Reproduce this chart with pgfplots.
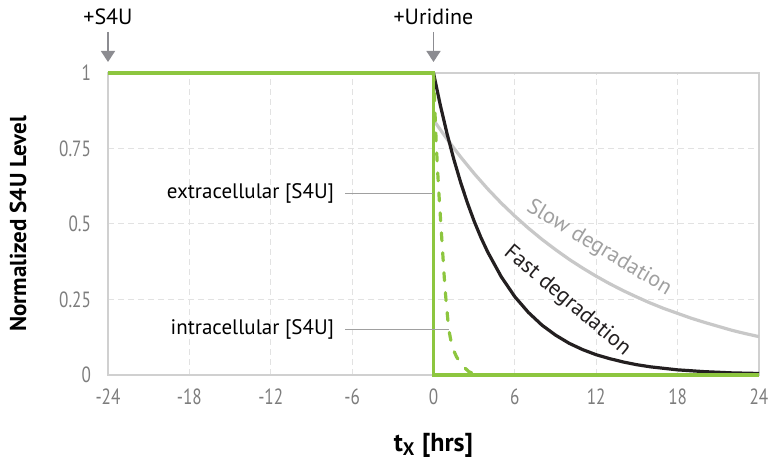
\documentclass[border=0pt]{standalone}
\usepackage{fontspec}
\setmainfont{PT Sans}
\newfontfamily\condfont{PT Sans}[FakeStretch=0.78]
\usepackage{pgfplots}
\pgfplotsset{compat=1.18}
\usetikzlibrary{arrows.meta}

\definecolor{sgreen}{RGB}{141,198,63}
\definecolor{sblack}{RGB}{35,31,32}
\definecolor{sgray}{RGB}{200,200,200}
\definecolor{gridc}{RGB}{226,226,226}
\definecolor{axc}{RGB}{208,208,208}
\definecolor{tickc}{RGB}{125,125,125}
\definecolor{annc}{RGB}{160,160,160}
\definecolor{arrc}{RGB}{140,140,145}

\begin{document}
\begin{tikzpicture}
\begin{axis}[
    at={(0,0)}, anchor=south west,
    scale only axis, width=325.5pt, height=151pt,
    xmin=-24, xmax=24, ymin=0, ymax=1,
    xtick={-24,-18,-12,-6,0,6,12,18,24},
    xticklabels={-24,-18,-12,-6,0,6,12,18,24},
    ytick={0,0.25,0.5,0.75,1},
    yticklabels={0,0.25,0.5,0.75,1},
    grid=major,
    major grid style={gridc, dash pattern=on 3pt off 2pt, line width=0.5pt},
    axis line style={axc, line width=0.8pt},
    tick style={draw=none},
    ticklabel style={font=\condfont\fontsize{11}{13}\selectfont, text=tickc},
    xticklabel style={anchor=north, yshift=-3.5pt},
    yticklabel style={anchor=east, xshift=-5pt},
    xlabel={t\textsubscript{X} [hrs]},
    xlabel style={at={(axis description cs:0.5,-0.232)}, anchor=center,
        font=\bfseries\fontsize{13}{15}\selectfont},
    ylabel={Normalized S4U Level},
    ylabel style={at={(axis description cs:-0.1382,0.5)}, anchor=center,
        font=\bfseries\fontsize{11.5}{13}\selectfont},
    clip=false,
]
% slow degradation
\addplot[sgray, line width=1.6pt] coordinates {
(0.1,0.838) (1,0.781) (2,0.722) (3,0.667) (4,0.616) (5,0.569) (6,0.526)
(7,0.486) (8,0.449) (9,0.415) (10,0.383) (11,0.354) (12,0.327) (13,0.302)
(14,0.279) (15,0.258) (16,0.238) (17,0.220) (18,0.204) (19,0.188) (20,0.174)
(21,0.161) (22,0.148) (23,0.137) (24,0.127)
};
% fast degradation
\addplot[sblack, line width=1.6pt] coordinates {
(0,1) (0.5,0.894) (1,0.799) (1.5,0.714) (2,0.638) (2.5,0.570) (3,0.509)
(3.5,0.455) (4,0.407) (5,0.325) (6,0.259) (7,0.207) (8,0.165) (9,0.132)
(10,0.105) (11,0.084) (12,0.067) (13,0.054) (14,0.043) (15,0.034) (16,0.027)
(17,0.022) (18,0.017) (19,0.014) (20,0.011) (21,0.009) (22,0.007) (23,0.006)
(24,0.005)
};
% intracellular
\addplot[sgreen, line width=1.6pt, line cap=round, dash pattern=on 4pt off 6pt] coordinates {
(0,1) (0.1,0.88) (0.2,0.77) (0.3,0.68) (0.4,0.60) (0.5,0.53) (0.6,0.46)
(0.7,0.39) (0.8,0.32) (0.9,0.26) (1.0,0.21) (1.13,0.15) (1.3,0.11) (1.5,0.08)
(1.7,0.06) (1.85,0.05) (2.0,0.04) (2.3,0.024) (2.6,0.011) (3.0,0.004)
(3.5,0.001) (4.0,0)
};
% extracellular
\addplot[sgreen, line width=1.6pt] coordinates {
(-24,1) (0,1) (0,0) (24,0)
};

% curve labels
\node[text=annc, rotate=-31, font=\fontsize{11}{13}\selectfont] at (axis cs:12.2,0.42) {Slow degradation};
\node[text=sblack, rotate=-40, font=\fontsize{11}{13}\selectfont] at (axis cs:9.85,0.245) {Fast degradation};

% annotations
\node[anchor=mid east, inner sep=0pt, font=\fontsize{10.5}{12}\selectfont] at (axis cs:-7.3,0.60) {extracellular [S4U]};
\draw[annc, line width=0.6pt] (axis cs:-6.5,0.60) -- (axis cs:0,0.60);
\node[anchor=mid east, inner sep=0pt, font=\fontsize{10.5}{12}\selectfont] at (axis cs:-7.3,0.15) {intracellular [S4U]};
\draw[annc, line width=0.6pt] (axis cs:-6.5,0.15) -- (axis cs:1.13,0.15);

% treatment arrows
\draw[arrc, line width=0.7pt, -{Triangle[width=7pt,length=5.5pt]}]
    ([yshift=20.5pt]axis cs:-24,1) -- ([yshift=5.5pt]axis cs:-24,1);
\node[anchor=base, inner sep=0pt, font=\fontsize{11}{13}\selectfont] at ([yshift=24pt]axis cs:-24,1) {+S4U};
\draw[arrc, line width=0.7pt, -{Triangle[width=7pt,length=5.5pt]}]
    ([yshift=20.5pt]axis cs:0,1) -- ([yshift=5.5pt]axis cs:0,1);
\node[anchor=base, inner sep=0pt, font=\fontsize{11}{13}\selectfont] at ([yshift=24pt]axis cs:0,1) {+Uridine};
\end{axis}
\pgfresetboundingbox
\path[use as bounding box] (-54pt,-44.5pt) rectangle (332pt,187.5pt);
\end{tikzpicture}
\end{document}
